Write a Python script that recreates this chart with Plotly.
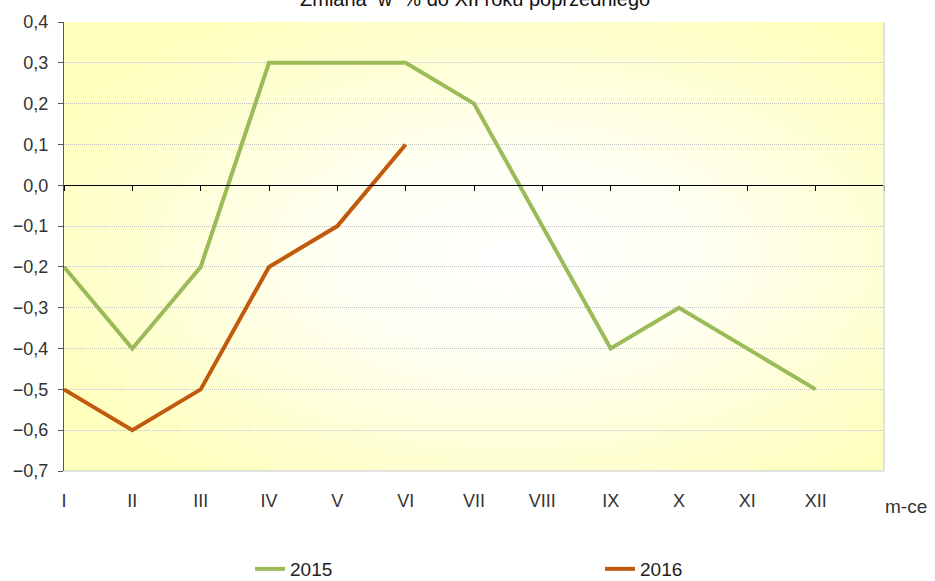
import base64
import plotly.graph_objects as go

months = ["I", "II", "III", "IV", "V", "VI", "VII", "VIII", "IX", "X", "XI", "XII"]
values_2015 = [-0.2, -0.4, -0.2, 0.3, 0.3, 0.3, 0.2, -0.1, -0.4, -0.3, -0.4, -0.5]
values_2016 = [-0.5, -0.6, -0.5, -0.2, -0.1, 0.1]
y_ticks = [-0.7, -0.6, -0.5, -0.4, -0.3, -0.2, -0.1, 0.0, 0.1, 0.2, 0.3, 0.4]

title_text = "Zmiana  w  % do XII roku poprzedniego"
x_unit = "m-ce"

FONT = "Liberation Sans, Arial, sans-serif"
W, H = 935, 581
ML, MR, MT, MB = 64, 51, 22, 110
ymin, ymax = -0.7, 0.4

idx = list(range(len(months)))

fig = go.Figure()
fig.add_trace(go.Scatter(x=idx, y=values_2015, mode="lines", name="2015",
                         line=dict(color="#9BBB59", width=4)))
fig.add_trace(go.Scatter(x=idx[:len(values_2016)], y=values_2016, mode="lines", name="2016",
                         line=dict(color="#C25A0E", width=4)))
# invisible trace to host the zero-line axis with tick marks
fig.add_trace(go.Scatter(x=[0], y=[0], xaxis="x2", mode="markers",
                         marker=dict(opacity=0), showlegend=False, hoverinfo="skip"))

svg = ('<svg xmlns="http://www.w3.org/2000/svg" width="200" height="200" viewBox="0 0 100 100" '
       'preserveAspectRatio="none"><defs><radialGradient id="g" cx="0.55" cy="0.52" r="0.62">'
       '<stop offset="0" stop-color="#FFFFFF"/><stop offset="0.35" stop-color="#FFFFF4"/>'
       '<stop offset="1" stop-color="#FFFFBE"/></radialGradient></defs>'
       '<rect width="100" height="100" fill="url(#g)"/></svg>')
src = "data:image/svg+xml;base64," + base64.b64encode(svg.encode()).decode()

ph = H - MT - MB
pw = W - ML - MR
zero_pos = (0 - ymin) / (ymax - ymin)

fig.update_layout(
    width=W, height=H,
    margin=dict(l=ML, r=MR, t=MT, b=MB, autoexpand=False),
    paper_bgcolor="white",
    plot_bgcolor="#FFFFF0",
    separators=", ",
    font=dict(family=FONT, size=18, color="#222222"),
    showlegend=True,
    legend=dict(orientation="h", xref="container", yref="container",
                x=250 / W, xanchor="left",
                y=1 - 569 / H, yanchor="middle",
                entrywidth=305, entrywidthmode="pixels",
                font=dict(family=FONT, size=19, color="#222222"),
                bgcolor="rgba(0,0,0,0)", itemclick=False),
    images=[dict(source=src, xref="paper", yref="paper", x=0, y=1, sizex=1, sizey=1,
                 sizing="stretch", layer="below", xanchor="left", yanchor="top")],
    xaxis=dict(range=[0, 12], tickmode="array", tickvals=idx, ticktext=months,
               showgrid=False, zeroline=False, showline=False, ticks="",
               ticklabelstandoff=17, tickfont=dict(family=FONT, size=18, color="#333333"),
               fixedrange=True, automargin=False),
    xaxis2=dict(range=[0, 12], overlaying="x", anchor="free", position=zero_pos,
                side="bottom", showline=True, linecolor="#000000", linewidth=1,
                ticks="outside", ticklen=5, tickcolor="#000000", tickvals=list(range(13)),
                showticklabels=False, showgrid=False, zeroline=False),
    yaxis=dict(range=[ymin, ymax], tickmode="array", tickvals=y_ticks, tickformat=".1f",
               showgrid=True, gridcolor="#BFBFBF", griddash="1px,1px", gridwidth=1,
               zeroline=False, showline=True, linecolor="#555555", linewidth=1,
               ticks="outside", ticklen=5, tickcolor="#555555", automargin=False,
               ticklabelstandoff=6,
               tickfont=dict(family=FONT, size=18, color="#333333")),
    shapes=[
        dict(type="line", xref="paper", yref="paper", x0=1, x1=1, y0=0, y1=1,
             line=dict(color="#D9D9D9", width=1.5)),
        dict(type="line", xref="paper", yref="paper", x0=0, x1=1, y0=0, y1=0,
             line=dict(color="#D9D9D9", width=1.5)),
    ],
    annotations=[
        dict(text=title_text, xref="paper", yref="paper",
             x=(475 - ML) / pw, y=1 + (MT - 12) / ph, yanchor="bottom",
             showarrow=False, font=dict(family=FONT, size=20, color="#111111")),
        dict(text=x_unit, xref="paper", yref="paper",
             x=(906 - ML) / pw, y=-(506 - (H - MB)) / ph, yanchor="middle",
             xanchor="center", showarrow=False, font=dict(family=FONT, size=19, color="#333333")),
    ],
)

fig.write_html("out.html", config={"displayModeBar": False},
               post_script="document.body.style.margin='0';document.body.style.overflow='hidden';")
